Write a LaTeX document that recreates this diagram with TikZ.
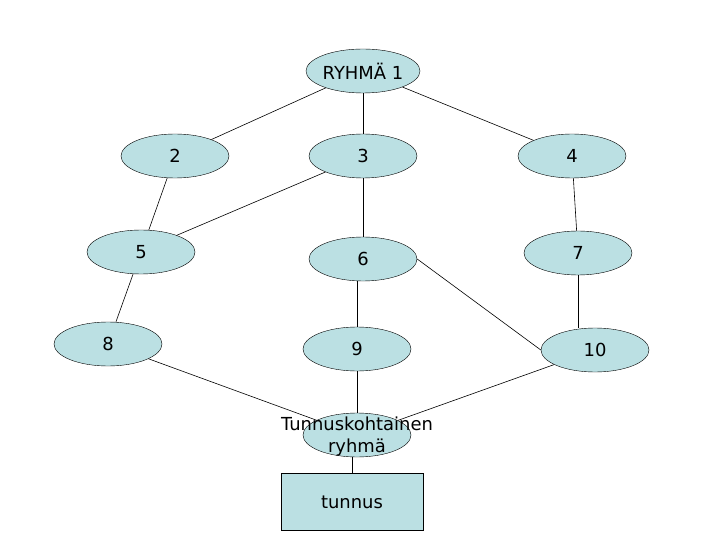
\documentclass[tikz,border=0pt]{standalone}
\usepackage{fontspec}
\setmainfont{DejaVu Sans}
\usetikzlibrary{shapes.geometric}
\definecolor{ryhmablue}{RGB}{187,224,227}
\tikzset{
  ryhma/.style={ellipse, draw, fill=ryhmablue, minimum width=108bp,
    minimum height=44bp, inner sep=0pt, font=\fontsize{18}{22}\selectfont},
  tunnusbox/.style={rectangle, draw, fill=ryhmablue, minimum width=142bp,
    minimum height=57bp, inner sep=0pt, font=\fontsize{18}{22}\selectfont},
  yhteys/.style={line width=0.6bp},
}

\begin{document}
\begin{tikzpicture}[x=1bp, y=-1bp]
        \useasboundingbox (0,0) rectangle (720,540);

        \node[ryhma] (r1) at (363,71) {RYHMÄ 1};
        \node[ryhma] (n2) at (175,156) {2};
        \node[ryhma] (n3) at (363,156) {3};
        \node[ryhma] (n4) at (572,156) {4};
        \node[ryhma] (n5) at (141,252) {5};
        \node[ryhma] (n6) at (363,259) {6};
        \node[ryhma] (n7) at (578,253) {7};
        \node[ryhma] (n8) at (108,344) {8};
        \node[ryhma] (n9) at (357,349) {9};
        \node[ryhma] (n10) at (595,350) {10};
        \node[ryhma] (tk) at (357,435) {};
        \node[tunnusbox] (tunnus) at (352,502) {tunnus};

        \foreach \a/\b in {r1/n2, r1/n4, n2/n5, n3/n5.25, n6.east/n10.west,
                           n4/n7, n5/n8, n8/tk, n10/tk}
            \draw[yhteys] (\a) -- (\b);
        ;

        % vertical connectors
        \foreach \a/\b in {r1.south/n3.north, n3.south/n6.north,
                           n9.north/n6.south, n7.south/n10.north,
                           n9.south/tk.north, tunnus.north/tk.south}
            \draw[yhteys] (\a) -- (\a |- \b);
        ;

        \node[align=center, font=\fontsize{18}{22}\selectfont] (tktext) at ([yshift=-2bp]tk) {Tunnuskohtainen\\ryhmä};
    \end{tikzpicture}
\end{document}
